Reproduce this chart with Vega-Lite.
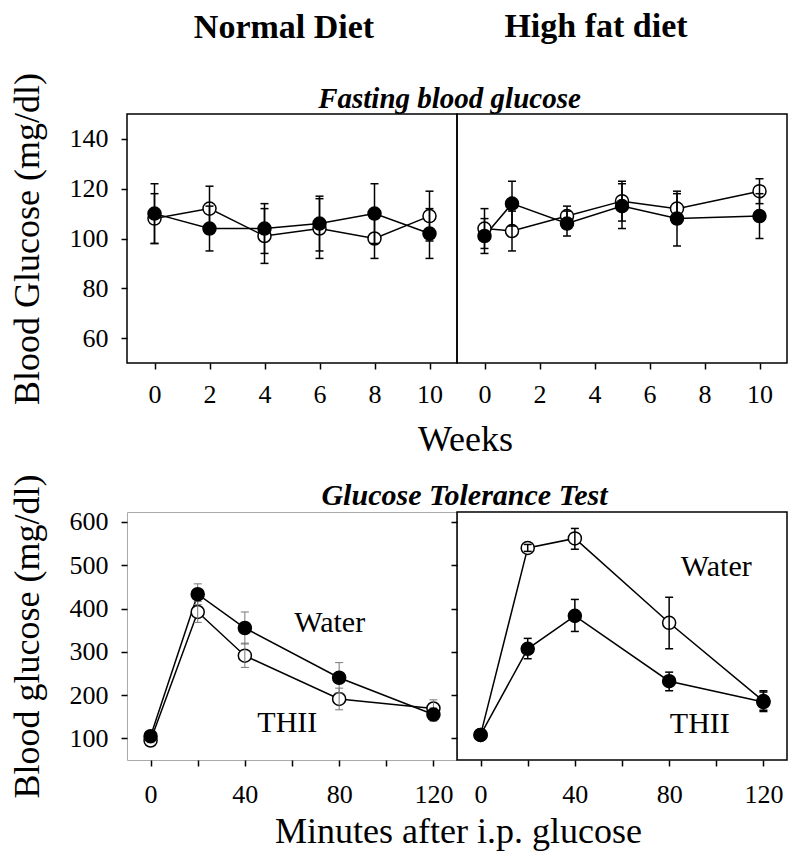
{
  "$schema": "https://vega.github.io/schema/vega-lite/v6.json",
  "padding": {"left": 8, "top": 9, "right": 5, "bottom": 5},
  "background": "white",
  "config": {
    "font": "Liberation Serif",
    "view": {"stroke": "black", "strokeWidth": 1.5},
    "axis": {
      "domain": false, "grid": false,
      "tickColor": "black", "tickSize": 6, "tickWidth": 1.5,
      "labelFont": "Liberation Serif", "labelFontSize": 26, "labelColor": "black",
      "titleFont": "Liberation Serif", "titleFontSize": 36, "titleFontWeight": "normal", "titleColor": "black"
    },
    "title": {"font": "Liberation Serif", "color": "black"}
  },
  "datasets": {
    "fast": [
      {"diet": "Normal", "week": 0, "grp": "W", "v": 108, "lo": 98, "hi": 118},
      {"diet": "Normal", "week": 2, "grp": "W", "v": 112, "lo": 103, "hi": 121},
      {"diet": "Normal", "week": 4, "grp": "W", "v": 101, "lo": 90, "hi": 112},
      {"diet": "Normal", "week": 6, "grp": "W", "v": 104, "lo": 92, "hi": 116},
      {"diet": "Normal", "week": 8, "grp": "W", "v": 100, "lo": 92, "hi": 108},
      {"diet": "Normal", "week": 10, "grp": "W", "v": 109, "lo": 99, "hi": 119},
      {"diet": "Normal", "week": 0, "grp": "T", "v": 110, "lo": 98, "hi": 122},
      {"diet": "Normal", "week": 2, "grp": "T", "v": 104, "lo": 95, "hi": 113},
      {"diet": "Normal", "week": 4, "grp": "T", "v": 104, "lo": 94, "hi": 114},
      {"diet": "Normal", "week": 6, "grp": "T", "v": 106, "lo": 95, "hi": 117},
      {"diet": "Normal", "week": 8, "grp": "T", "v": 110, "lo": 98, "hi": 122},
      {"diet": "Normal", "week": 10, "grp": "T", "v": 102, "lo": 92, "hi": 112},
      {"diet": "HFD", "week": 0, "grp": "W", "v": 104, "lo": 96, "hi": 112},
      {"diet": "HFD", "week": 1, "grp": "W", "v": 103, "lo": 95, "hi": 111},
      {"diet": "HFD", "week": 3, "grp": "W", "v": 109, "lo": 105, "hi": 113},
      {"diet": "HFD", "week": 5, "grp": "W", "v": 115, "lo": 107, "hi": 123},
      {"diet": "HFD", "week": 7, "grp": "W", "v": 112, "lo": 106, "hi": 118},
      {"diet": "HFD", "week": 10, "grp": "W", "v": 119, "lo": 114, "hi": 124},
      {"diet": "HFD", "week": 0, "grp": "T", "v": 101, "lo": 94, "hi": 108},
      {"diet": "HFD", "week": 1, "grp": "T", "v": 114, "lo": 105, "hi": 123},
      {"diet": "HFD", "week": 3, "grp": "T", "v": 106, "lo": 101, "hi": 111},
      {"diet": "HFD", "week": 5, "grp": "T", "v": 113, "lo": 104, "hi": 122},
      {"diet": "HFD", "week": 7, "grp": "T", "v": 108, "lo": 97, "hi": 119},
      {"diet": "HFD", "week": 10, "grp": "T", "v": 109, "lo": 100, "hi": 118}
    ],
    "gtt": [
      {"diet": "Normal", "t": 0, "grp": "W", "v": 95, "lo": 90, "hi": 100},
      {"diet": "Normal", "t": 20, "grp": "W", "v": 392, "lo": 368, "hi": 416},
      {"diet": "Normal", "t": 40, "grp": "W", "v": 291, "lo": 264, "hi": 320},
      {"diet": "Normal", "t": 80, "grp": "W", "v": 191, "lo": 166, "hi": 216},
      {"diet": "Normal", "t": 120, "grp": "W", "v": 169, "lo": 150, "hi": 189},
      {"diet": "Normal", "t": 0, "grp": "T", "v": 105, "lo": 100, "hi": 110},
      {"diet": "Normal", "t": 20, "grp": "T", "v": 433, "lo": 409, "hi": 457},
      {"diet": "Normal", "t": 40, "grp": "T", "v": 355, "lo": 318, "hi": 392},
      {"diet": "Normal", "t": 80, "grp": "T", "v": 240, "lo": 205, "hi": 275},
      {"diet": "Normal", "t": 120, "grp": "T", "v": 155, "lo": 140, "hi": 170},
      {"diet": "HFD", "t": 0, "grp": "W", "v": 108, "lo": 103, "hi": 113},
      {"diet": "HFD", "t": 20, "grp": "W", "v": 540, "lo": 532, "hi": 548},
      {"diet": "HFD", "t": 40, "grp": "W", "v": 562, "lo": 537, "hi": 585},
      {"diet": "HFD", "t": 80, "grp": "W", "v": 367, "lo": 307, "hi": 426},
      {"diet": "HFD", "t": 120, "grp": "W", "v": 186, "lo": 165, "hi": 207},
      {"diet": "HFD", "t": 0, "grp": "T", "v": 108, "lo": 103, "hi": 113},
      {"diet": "HFD", "t": 20, "grp": "T", "v": 307, "lo": 284, "hi": 331},
      {"diet": "HFD", "t": 40, "grp": "T", "v": 383, "lo": 347, "hi": 421},
      {"diet": "HFD", "t": 80, "grp": "T", "v": 232, "lo": 210, "hi": 253},
      {"diet": "HFD", "t": 120, "grp": "T", "v": 184, "lo": 162, "hi": 210}
    ],
    "labs": [
      {"diet": "Normal", "t": 76, "v": 345, "text": "Water"},
      {"diet": "Normal", "t": 58, "v": 114, "text": "THII"},
      {"diet": "HFD", "t": 100, "v": 474, "text": "Water"},
      {"diet": "HFD", "t": 93, "v": 112, "text": "THII"}
    ]
  },
  "bounds": "flush",
  "spacing": 398,
  "vconcat": [
    {
      "bounds": "flush",
      "spacing": 0,
      "hconcat": [
        {
          "width": 330, "height": 249,
          "title": {"text": "Normal Diet", "fontSize": 34, "fontWeight": "bold", "dx": -8, "offset": 28},
          "data": {"name": "fast"},
          "transform": [{"filter": "datum.diet == 'Normal'"}],
          "encoding": {
            "x": {"field": "week", "type": "quantitative", "scale": {"domain": [-1, 11], "nice": false, "zero": false}, "axis": null},
            "y": {"field": "v", "type": "quantitative", "scale": {"domain": [50, 150], "nice": false, "zero": false},
                  "axis": {"values": [60, 80, 100, 120, 140], "title": "Blood Glucose (mg/dl)", "labelPadding": 13, "titlePadding": 23}}
          },
          "layer": [
            {"mark": {"type": "line", "color": "black", "strokeWidth": 1.5},
             "encoding": {"detail": {"field": "grp"},
               "x": {"field": "week", "type": "quantitative", "scale": {"domain": [-1, 11], "nice": false, "zero": false},
                     "axis": {"orient": "bottom", "values": [0, 2, 4, 6, 8, 10], "title": "Weeks", "titleX": 338, "titleAlign": "center", "labelPadding": 12, "titlePadding": 15}}}},
            {"mark": {"type": "point", "shape": "circle", "filled": true, "fill": "white", "stroke": "black", "strokeWidth": 1.5, "size": 170, "opacity": 1},
             "transform": [{"filter": "datum.grp == 'W'"}],
             "encoding": {
               "x": {"field": "week", "type": "quantitative", "scale": {"domain": [-1, 11], "nice": false, "zero": false},
                     "axis": {"orient": "top", "title": "Fasting blood glucose", "labels": false, "ticks": false, "titleX": 322, "titleAlign": "center", "titleFontStyle": "italic", "titleFontWeight": "bold", "titleFontSize": 29, "titlePadding": 1}}}},
            {"mark": {"type": "rule", "color": "black", "strokeWidth": 1.5},
             "encoding": {"y": {"field": "lo", "type": "quantitative", "scale": {"domain": [50, 150], "nice": false, "zero": false},
                                "axis": {"values": [60, 80, 100, 120, 140], "title": "Blood Glucose (mg/dl)", "labelPadding": 13, "titlePadding": 23}}, "y2": {"field": "hi"}}},
            {"mark": {"type": "tick", "orient": "horizontal", "color": "black", "size": 8, "thickness": 1.5, "opacity": 1},
             "encoding": {"y": {"field": "lo", "type": "quantitative", "scale": {"domain": [50, 150], "nice": false, "zero": false},
                                "axis": {"values": [60, 80, 100, 120, 140], "title": "Blood Glucose (mg/dl)", "labelPadding": 13, "titlePadding": 23}}}},
            {"mark": {"type": "tick", "orient": "horizontal", "color": "black", "size": 8, "thickness": 1.5, "opacity": 1},
             "encoding": {"y": {"field": "hi", "type": "quantitative", "scale": {"domain": [50, 150], "nice": false, "zero": false},
                                "axis": {"values": [60, 80, 100, 120, 140], "title": "Blood Glucose (mg/dl)", "labelPadding": 13, "titlePadding": 23}}}},
            {"mark": {"type": "point", "shape": "circle", "filled": true, "fill": "black", "stroke": "black", "strokeWidth": 1.5, "size": 170, "opacity": 1},
             "transform": [{"filter": "datum.grp == 'T'"}]}
          ]
        },
        {
          "width": 330, "height": 249,
          "title": {"text": "High fat diet", "fontSize": 34, "fontWeight": "bold", "dx": -26, "offset": 70},
          "data": {"name": "fast"},
          "transform": [{"filter": "datum.diet == 'HFD'"}],
          "encoding": {
            "x": {"field": "week", "type": "quantitative", "scale": {"domain": [-1, 11], "nice": false, "zero": false},
                  "axis": {"values": [0, 2, 4, 6, 8, 10], "title": null, "labelPadding": 12}},
            "y": {"field": "v", "type": "quantitative", "scale": {"domain": [50, 150], "nice": false, "zero": false}, "axis": null}
          },
          "layer": [
            {"mark": {"type": "line", "color": "black", "strokeWidth": 1.5}, "encoding": {"detail": {"field": "grp"}}},
            {"mark": {"type": "point", "shape": "circle", "filled": true, "fill": "white", "stroke": "black", "strokeWidth": 1.5, "size": 170, "opacity": 1},
             "transform": [{"filter": "datum.grp == 'W'"}]},
            {"mark": {"type": "rule", "color": "black", "strokeWidth": 1.5},
             "encoding": {"y": {"field": "lo", "type": "quantitative", "scale": {"domain": [50, 150], "nice": false, "zero": false}, "axis": null}, "y2": {"field": "hi"}}},
            {"mark": {"type": "tick", "orient": "horizontal", "color": "black", "size": 8, "thickness": 1.5, "opacity": 1},
             "encoding": {"y": {"field": "lo", "type": "quantitative", "scale": {"domain": [50, 150], "nice": false, "zero": false}, "axis": null}}},
            {"mark": {"type": "tick", "orient": "horizontal", "color": "black", "size": 8, "thickness": 1.5, "opacity": 1},
             "encoding": {"y": {"field": "hi", "type": "quantitative", "scale": {"domain": [50, 150], "nice": false, "zero": false}, "axis": null}}},
            {"mark": {"type": "point", "shape": "circle", "filled": true, "fill": "black", "stroke": "black", "strokeWidth": 1.5, "size": 170, "opacity": 1},
             "transform": [{"filter": "datum.grp == 'T'"}]}
          ]
        }
      ]
    },
    {
      "bounds": "flush",
      "spacing": 0,
      "hconcat": [
        {
          "width": 330, "height": 248,
          "view": {"stroke": "#aaaaaa", "strokeWidth": 1},
          "encoding": {
            "x": {"field": "t", "type": "quantitative", "scale": {"domain": [-10, 130], "nice": false, "zero": false}, "axis": null},
            "y": {"field": "v", "type": "quantitative", "scale": {"domain": [50, 623], "nice": false, "zero": false},
                  "axis": {"values": [100, 200, 300, 400, 500, 600], "title": "Blood glucose (mg/dl)", "labelPadding": 13, "titlePadding": 23}}
          },
          "layer": [
            {"data": {"name": "gtt"}, "transform": [{"filter": "datum.diet == 'Normal'"}],
             "mark": {"type": "line", "color": "black", "strokeWidth": 1.5},
             "encoding": {"detail": {"field": "grp"},
               "x": {"field": "t", "type": "quantitative", "scale": {"domain": [-10, 130], "nice": false, "zero": false},
                     "axis": {"orient": "bottom", "values": [0, 20, 40, 60, 80, 100, 120], "labelExpr": "datum.value % 40 == 0 ? datum.label : ''", "title": "Minutes after i.p. glucose", "titleX": 331, "titleAlign": "center", "labelPadding": 15, "titlePadding": 7}}}},
            {"data": {"name": "gtt"}, "transform": [{"filter": "datum.diet == 'Normal' && datum.grp == 'W'"}],
             "mark": {"type": "point", "shape": "circle", "filled": true, "fill": "white", "stroke": "black", "strokeWidth": 1.5, "size": 170, "opacity": 1},
             "encoding": {
               "x": {"field": "t", "type": "quantitative", "scale": {"domain": [-10, 130], "nice": false, "zero": false},
                     "axis": {"orient": "top", "title": "Glucose Tolerance Test", "labels": false, "ticks": false, "titleX": 337, "titleAlign": "center", "titleFontStyle": "italic", "titleFontWeight": "bold", "titleFontSize": 30, "titlePadding": 2}}}},
            {"data": {"name": "gtt"}, "transform": [{"filter": "datum.diet == 'Normal'"}],
             "mark": {"type": "rule", "color": "#777777", "strokeWidth": 1},
             "encoding": {"y": {"field": "lo", "type": "quantitative", "scale": {"domain": [50, 623], "nice": false, "zero": false},
                                "axis": {"values": [100, 200, 300, 400, 500, 600], "title": "Blood glucose (mg/dl)", "labelPadding": 13, "titlePadding": 23}}, "y2": {"field": "hi"}}},
            {"data": {"name": "gtt"}, "transform": [{"filter": "datum.diet == 'Normal'"}],
             "mark": {"type": "tick", "orient": "horizontal", "color": "#777777", "size": 8, "thickness": 1, "opacity": 1},
             "encoding": {"y": {"field": "lo", "type": "quantitative", "scale": {"domain": [50, 623], "nice": false, "zero": false},
                                "axis": {"values": [100, 200, 300, 400, 500, 600], "title": "Blood glucose (mg/dl)", "labelPadding": 13, "titlePadding": 23}}}},
            {"data": {"name": "gtt"}, "transform": [{"filter": "datum.diet == 'Normal'"}],
             "mark": {"type": "tick", "orient": "horizontal", "color": "#777777", "size": 8, "thickness": 1, "opacity": 1},
             "encoding": {"y": {"field": "hi", "type": "quantitative", "scale": {"domain": [50, 623], "nice": false, "zero": false},
                                "axis": {"values": [100, 200, 300, 400, 500, 600], "title": "Blood glucose (mg/dl)", "labelPadding": 13, "titlePadding": 23}}}},
            {"data": {"name": "gtt"}, "transform": [{"filter": "datum.diet == 'Normal' && datum.grp == 'T'"}],
             "mark": {"type": "point", "shape": "circle", "filled": true, "fill": "black", "stroke": "black", "strokeWidth": 1.5, "size": 170, "opacity": 1}},
            {"data": {"name": "labs"}, "transform": [{"filter": "datum.diet == 'Normal'"}],
             "mark": {"type": "text", "fontSize": 30, "align": "center", "baseline": "alphabetic", "color": "black"},
             "encoding": {"text": {"field": "text"}}}
          ]
        },
        {
          "width": 330, "height": 248,
          "encoding": {
            "x": {"field": "t", "type": "quantitative", "scale": {"domain": [-10, 130], "nice": false, "zero": false},
                  "axis": {"values": [0, 20, 40, 60, 80, 100, 120], "labelExpr": "datum.value % 40 == 0 ? datum.label : ''", "title": null, "labelPadding": 15}},
            "y": {"field": "v", "type": "quantitative", "scale": {"domain": [50, 623], "nice": false, "zero": false},
                  "axis": {"values": [100, 200, 300, 400, 500, 600], "labels": false, "title": null}}
          },
          "layer": [
            {"data": {"name": "gtt"}, "transform": [{"filter": "datum.diet == 'HFD'"}],
             "mark": {"type": "line", "color": "black", "strokeWidth": 1.5}, "encoding": {"detail": {"field": "grp"}}},
            {"data": {"name": "gtt"}, "transform": [{"filter": "datum.diet == 'HFD' && datum.grp == 'W'"}],
             "mark": {"type": "point", "shape": "circle", "filled": true, "fill": "white", "stroke": "black", "strokeWidth": 1.5, "size": 170, "opacity": 1}},
            {"data": {"name": "gtt"}, "transform": [{"filter": "datum.diet == 'HFD'"}],
             "mark": {"type": "rule", "color": "black", "strokeWidth": 1.5},
             "encoding": {"y": {"field": "lo", "type": "quantitative", "scale": {"domain": [50, 623], "nice": false, "zero": false},
                                "axis": {"values": [100, 200, 300, 400, 500, 600], "labels": false, "title": null}}, "y2": {"field": "hi"}}},
            {"data": {"name": "gtt"}, "transform": [{"filter": "datum.diet == 'HFD'"}],
             "mark": {"type": "tick", "orient": "horizontal", "color": "black", "size": 8, "thickness": 1.5, "opacity": 1},
             "encoding": {"y": {"field": "lo", "type": "quantitative", "scale": {"domain": [50, 623], "nice": false, "zero": false},
                                "axis": {"values": [100, 200, 300, 400, 500, 600], "labels": false, "title": null}}}},
            {"data": {"name": "gtt"}, "transform": [{"filter": "datum.diet == 'HFD'"}],
             "mark": {"type": "tick", "orient": "horizontal", "color": "black", "size": 8, "thickness": 1.5, "opacity": 1},
             "encoding": {"y": {"field": "hi", "type": "quantitative", "scale": {"domain": [50, 623], "nice": false, "zero": false},
                                "axis": {"values": [100, 200, 300, 400, 500, 600], "labels": false, "title": null}}}},
            {"data": {"name": "gtt"}, "transform": [{"filter": "datum.diet == 'HFD' && datum.grp == 'T'"}],
             "mark": {"type": "point", "shape": "circle", "filled": true, "fill": "black", "stroke": "black", "strokeWidth": 1.5, "size": 170, "opacity": 1}},
            {"data": {"name": "labs"}, "transform": [{"filter": "datum.diet == 'HFD'"}],
             "mark": {"type": "text", "fontSize": 30, "align": "center", "baseline": "alphabetic", "color": "black"},
             "encoding": {"text": {"field": "text"}}}
          ]
        }
      ]
    }
  ]
}
